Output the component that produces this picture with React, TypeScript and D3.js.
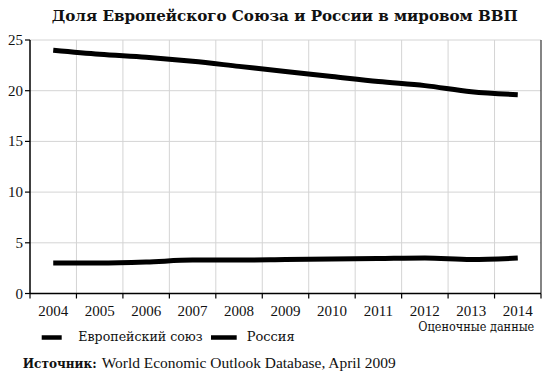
import React from "react";
import * as d3 from "d3";

const years = ["2004","2005","2006","2007","2008","2009","2010","2011","2012","2013","2014"];
const euValues = [24.0, 23.6, 23.3, 22.9, 22.4, 21.9, 21.4, 20.9, 20.5, 19.9, 19.6];
const ruValues = [3.0, 3.0, 3.1, 3.3, 3.3, 3.35, 3.4, 3.45, 3.5, 3.35, 3.5];
const yTicks = [0, 5, 10, 15, 20, 25];
const seriesNames = ["Европейский союз", "Россия"];

const W = 550, H = 376;
const m = { left: 30, right: 541, top: 40, bottom: 293.5 };
const latin = "Liberation Serif, serif";
const cyr = "DejaVu Serif, serif";

export default function App() {
  const x = d3.scaleBand<string>().domain(years).range([m.left, m.right]).padding(0);
  const y = d3.scaleLinear().domain([0, 25]).range([m.bottom, m.top]);
  const cx = (d: string) => (x(d) as number) + x.bandwidth() / 2;
  const line = d3.line<number>()
    .x((_, i) => cx(years[i]))
    .y((v) => y(v))
    .curve(d3.curveMonotoneX);
  const boundaries = years.map((d) => x(d) as number).concat([m.right]);

  return (
    <svg width={W} height={H} style={{ position: "absolute", left: 0, top: 0, background: "#fff" }}>
      <rect x={0} y={0} width={W} height={H} fill="#fff" />
      <text x={284.8} y={21} textAnchor="middle" style={{ fontFamily: cyr }} fontWeight="bold" fontSize={15.5} fill="#111"
        textLength={466} lengthAdjust="spacingAndGlyphs">
        Доля Европейского Союза и России в мировом ВВП
      </text>
      {/* grid */}
      {yTicks.filter((t) => t > 0).map((t) => (
        <line key={"gy" + t} x1={m.left} x2={m.right} y1={y(t)} y2={y(t)} stroke="#d4d4d4" strokeWidth={1} />
      ))}
      {boundaries.slice(1, -1).map((b, i) => (
        <line key={"gx" + i} x1={b} x2={b} y1={m.top} y2={m.bottom} stroke="#d4d4d4" strokeWidth={1} />
      ))}
      {/* axes */}
      <line x1={m.left} x2={m.left} y1={m.top} y2={m.bottom} stroke="#000" strokeWidth={1.5} />
      <line x1={m.right} x2={m.right} y1={m.top} y2={m.bottom} stroke="#333" strokeWidth={1.2} />
      <line x1={m.left} x2={m.right} y1={m.bottom} y2={m.bottom} stroke="#000" strokeWidth={1.5} />
      {yTicks.map((t) => (
        <g key={"yt" + t}>
          <line x1={m.left - 5} x2={m.left} y1={y(t)} y2={y(t)} stroke="#000" strokeWidth={1.2} />
          <text x={m.left - 7} y={y(t) + 5} textAnchor="end" style={{ fontFamily: latin }} fontSize={15} fill="#111">{t}</text>
        </g>
      ))}
      {boundaries.map((b, i) => (
        <line key={"xt" + i} x1={b} x2={b} y1={m.bottom} y2={m.bottom + 5} stroke="#000" strokeWidth={1.2} />
      ))}
      {years.map((d) => (
        <text key={"xl" + d} x={cx(d)} y={315.5} textAnchor="middle" style={{ fontFamily: latin }} fontSize={15} fill="#111">{d}</text>
      ))}
      <text x={418.3} y={331} style={{ fontFamily: cyr }} fontSize={12.5} fill="#111" textLength={116} lengthAdjust="spacingAndGlyphs">Оценочные данные</text>
      {/* series */}
      <path d={line(euValues) || ""} fill="none" stroke="#000" strokeWidth={5} />
      <path d={line(ruValues) || ""} fill="none" stroke="#000" strokeWidth={5} />
      {/* legend */}
      <line x1={41.7} x2={61.7} y1={337.5} y2={337.5} stroke="#000" strokeWidth={4.5} />
      <text x={78.3} y={341} style={{ fontFamily: cyr }} fontSize={13} fill="#111" textLength={124.4} lengthAdjust="spacingAndGlyphs">{seriesNames[0]}</text>
      <line x1={211} x2={236.7} y1={337.5} y2={337.5} stroke="#000" strokeWidth={4.5} />
      <text x={246.7} y={341} style={{ fontFamily: cyr }} fontSize={13} fill="#111" textLength={48} lengthAdjust="spacingAndGlyphs">{seriesNames[1]}</text>
      <text x={22.7} y={368} style={{ fontFamily: cyr }} fontWeight="bold" fontSize={13} fill="#111" textLength={74} lengthAdjust="spacingAndGlyphs">Источник:</text>
      <text x={101.7} y={368} style={{ fontFamily: latin }} fontSize={15} fill="#111" textLength={294} lengthAdjust="spacingAndGlyphs">World Economic Outlook Database, April 2009</text>
    </svg>
  );
}
